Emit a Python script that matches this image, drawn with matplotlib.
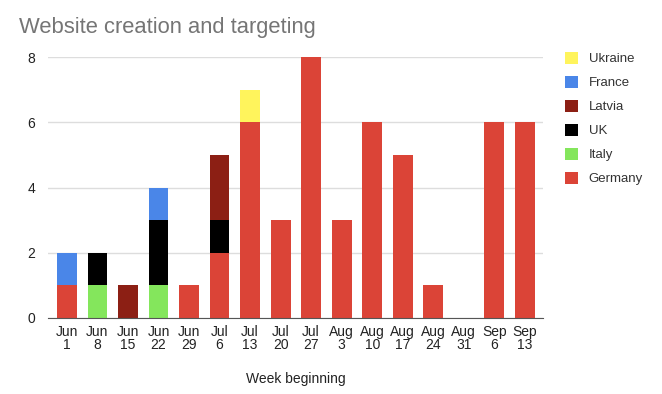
import matplotlib
matplotlib.use("Agg")
import matplotlib.pyplot as plt
import numpy as np

plt.rcParams["font.family"] = ["Liberation Sans", "DejaVu Sans"]

weeks = ["Jun\n1", "Jun\n8", "Jun\n15", "Jun\n22", "Jun\n29", "Jul\n6", "Jul\n13", "Jul\n20",
         "Jul\n27", "Aug\n3", "Aug\n10", "Aug\n17", "Aug\n24", "Aug\n31", "Sep\n6", "Sep\n13"]

germany = [1, 0, 0, 0, 1, 2, 6, 3, 8, 3, 6, 5, 1, 0, 6, 6]
italy   = [0, 1, 0, 1, 0, 0, 0, 0, 0, 0, 0, 0, 0, 0, 0, 0]
uk      = [0, 1, 0, 2, 0, 1, 0, 0, 0, 0, 0, 0, 0, 0, 0, 0]
latvia  = [0, 0, 1, 0, 0, 2, 0, 0, 0, 0, 0, 0, 0, 0, 0, 0]
france  = [1, 0, 0, 1, 0, 0, 0, 0, 0, 0, 0, 0, 0, 0, 0, 0]
ukraine = [0, 0, 0, 0, 0, 0, 1, 0, 0, 0, 0, 0, 0, 0, 0, 0]

series = [
    ("Germany", germany, "#db4437"),
    ("Italy", italy, "#84e65c"),
    ("UK", uk, "#000000"),
    ("Latvia", latvia, "#8c1f14"),
    ("France", france, "#4a86e8"),
    ("Ukraine", ukraine, "#fff45c"),
]

fig = plt.figure(figsize=(6.62, 3.94), dpi=100)
ax = fig.add_axes([0.0725, 0.193, 0.748, 0.662])

x = np.arange(len(weeks))
bottom = np.zeros(len(weeks))
handles = []
for name, vals, col in series:
    b = ax.bar(x, vals, bottom=bottom, width=0.65, color=col, label=name, zorder=3)
    handles.append(b)
    bottom += np.array(vals)

ax.set_xlim(-0.62, 15.6)
ax.set_ylim(0, 8)
ax.set_yticks([0, 2, 4, 6, 8])
ax.set_xticks(x)
ax.set_xticklabels(weeks, fontsize=10, color="#222222", linespacing=0.95)
ax.tick_params(axis="y", labelsize=10, labelcolor="#222222", length=0, pad=9)
ax.tick_params(axis="x", length=0, pad=5)
ax.grid(True, axis="y", color="#dddddd", linewidth=1, zorder=0)
for s in ["top", "right", "left"]:
    ax.spines[s].set_visible(False)
ax.spines["bottom"].set_color("#555555")
ax.spines["bottom"].set_zorder(4)

ax.set_xlabel("Week beginning", fontsize=10, color="#222222", labelpad=14)
fig.text(0.028, 0.915, "Website creation and targeting", fontsize=15.8, color="#757575")

ax.legend(handles[::-1], [s[0] for s in series][::-1], loc="upper left",
          bbox_to_anchor=(1.02, 1.065), frameon=False, fontsize=9.5,
          handlelength=1.0, handleheight=1.0, labelspacing=0.8, handletextpad=0.8,
          labelcolor="#333333")

fig.savefig("out.png", dpi=100)
